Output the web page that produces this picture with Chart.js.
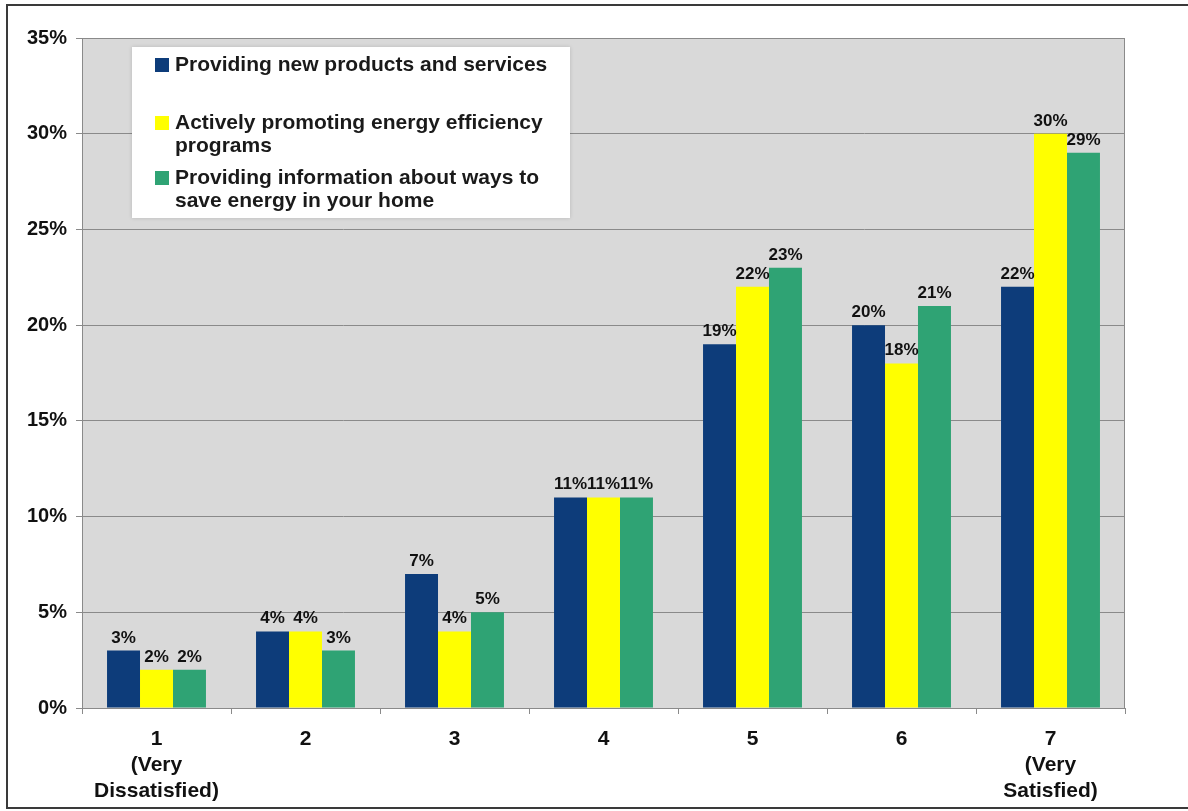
<!DOCTYPE html>
<html>
<head>
<meta charset="utf-8">
<title>Satisfaction ratings</title>
<script src="https://cdn.jsdelivr.net/npm/chart.js@4/dist/chart.umd.min.js"></script>
<style>
  html, body { margin: 0; padding: 0; background: #ffffff; }
  #wrap { width: 1188px; height: 811px; position: relative; }
</style>
</head>
<body>
<div id="wrap"><canvas id="chartSatisfaccion" width="1188" height="811"></canvas></div>
<script>
// Rating scale 1..7 (multi-line labels for the end points)
const categorias = [
    ['1', '(Very', 'Dissatisfied)'],
    ['2'],
    ['3'],
    ['4'],
    ['5'],
    ['6'],
    ['7', '(Very', 'Satisfied)']
];

// Series names, already split the way the legend shows them
const nombresSeries = [
    ['Providing new products and services'],
    ['Actively promoting energy efficiency', 'programs'],
    ['Providing information about ways to', 'save energy in your home']
];

// Percent of respondents per rating
const nuevosProductos = [3, 4, 7, 11, 19, 20, 22];
const eficiencia = [2, 4, 4, 11, 22, 18, 30];
const informacion = [2, 3, 5, 11, 23, 21, 29];

const ticksY = [0, 5, 10, 15, 20, 25, 30, 35];

const colores = ['#0d3c7a', '#ffff00', '#2fa374'];
const fuente = '"Liberation Sans", Arial, sans-serif';

// Gray plot background, frame and the outer border of the figure
const fondoPlugin = {
    id: 'fondo',
    beforeDraw(chart) {
        const { ctx, chartArea: a } = chart;
        ctx.save();
        ctx.fillStyle = '#d9d9d9';
        ctx.fillRect(a.left, a.top, a.right - a.left, a.bottom - a.top);
        ctx.strokeStyle = '#8a8a8a';
        ctx.lineWidth = 1;
        ctx.strokeRect(a.left + 0.5, a.top + 0.5, a.right - a.left - 1, a.bottom - a.top);

        ctx.strokeStyle = '#3a3a3a';
        ctx.lineWidth = 2;
        ctx.beginPath();
        ctx.moveTo(1188, 5);
        ctx.lineTo(7, 5);
        ctx.lineTo(7, 808);
        ctx.lineTo(1188, 808);
        ctx.stroke();
        ctx.restore();
    }
};

// Value labels above every bar
const etiquetasPlugin = {
    id: 'etiquetas',
    afterDatasetsDraw(chart) {
        const { ctx } = chart;
        ctx.save();
        ctx.font = 'bold 17px ' + fuente;
        ctx.fillStyle = '#111111';
        ctx.textAlign = 'center';
        ctx.textBaseline = 'alphabetic';
        chart.data.datasets.forEach((ds, i) => {
            chart.getDatasetMeta(i).data.forEach((bar, j) => {
                ctx.fillText(ds.data[j] + '%', bar.x, bar.y - 8);
            });
        });
        ctx.restore();
    }
};

// Legend box drawn inside the plot area
const leyendaPlugin = {
    id: 'leyendaInterna',
    afterDraw(chart, args, opts) {
        const { ctx } = chart;
        const b = opts.caja;
        ctx.save();
        ctx.shadowColor = 'rgba(0,0,0,0.15)';
        ctx.shadowBlur = 4;
        ctx.fillStyle = '#ffffff';
        ctx.fillRect(b.x, b.y, b.w, b.h);
        ctx.shadowColor = 'transparent';

        ctx.font = 'bold 21px ' + fuente;
        ctx.textAlign = 'left';
        ctx.textBaseline = 'middle';
        chart.data.datasets.forEach((ds, i) => {
            const y0 = opts.filas[i];
            ctx.fillStyle = ds.backgroundColor;
            ctx.fillRect(opts.marcaX, y0 - 7, 14, 14);
            ctx.fillStyle = '#1a1a1a';
            ds.lineas.forEach((t, k) => {
                ctx.fillText(t, opts.textoX, y0 + k * opts.interlinea);
            });
        });
        ctx.restore();
    }
};

const series = [nuevosProductos, eficiencia, informacion];

const ctx = document.getElementById('chartSatisfaccion').getContext('2d');
new Chart(ctx, {
    type: 'bar',
    data: {
        labels: categorias,
        datasets: series.map((valores, i) => ({
            label: nombresSeries[i].join(' '),
            lineas: nombresSeries[i],
            data: valores,
            backgroundColor: colores[i],
            borderWidth: 0,
            categoryPercentage: 0.664,
            barPercentage: 1
        }))
    },
    plugins: [fondoPlugin, etiquetasPlugin, leyendaPlugin],
    options: {
        responsive: false,
        animation: false,
        layout: { padding: { top: 38, right: 63, left: 0, bottom: 0 } },
        plugins: {
            legend: { display: false },
            tooltip: { enabled: false },
            leyendaInterna: {
                caja: { x: 132, y: 47, w: 438, h: 171 },
                marcaX: 155,
                textoX: 175,
                filas: [65, 123, 178],
                interlinea: 23
            }
        },
        scales: {
            x: {
                grid: {
                    display: true,
                    drawOnChartArea: false,
                    drawTicks: true,
                    tickLength: 6,
                    color: '#8a8a8a'
                },
                border: { display: true, color: '#8a8a8a' },
                ticks: {
                    color: '#111111',
                    font: { family: fuente, size: 21, weight: 'bold', lineHeight: 1.25 },
                    padding: 12,
                    maxRotation: 0,
                    autoSkip: false
                },
                afterFit(scale) { scale.height = 103; }
            },
            y: {
                min: 0,
                max: 35,
                afterBuildTicks(scale) { scale.ticks = ticksY.map(v => ({ value: v })); },
                grid: {
                    color: '#8a8a8a',
                    lineWidth: 1,
                    tickLength: 6
                },
                border: { display: true, color: '#8a8a8a' },
                ticks: {
                    color: '#111111',
                    font: { family: fuente, size: 20, weight: 'bold' },
                    padding: 9,
                    callback: v => v + '%'
                },
                afterFit(scale) { scale.width = 82; }
            }
        }
    }
});
</script>
</body>
</html>
